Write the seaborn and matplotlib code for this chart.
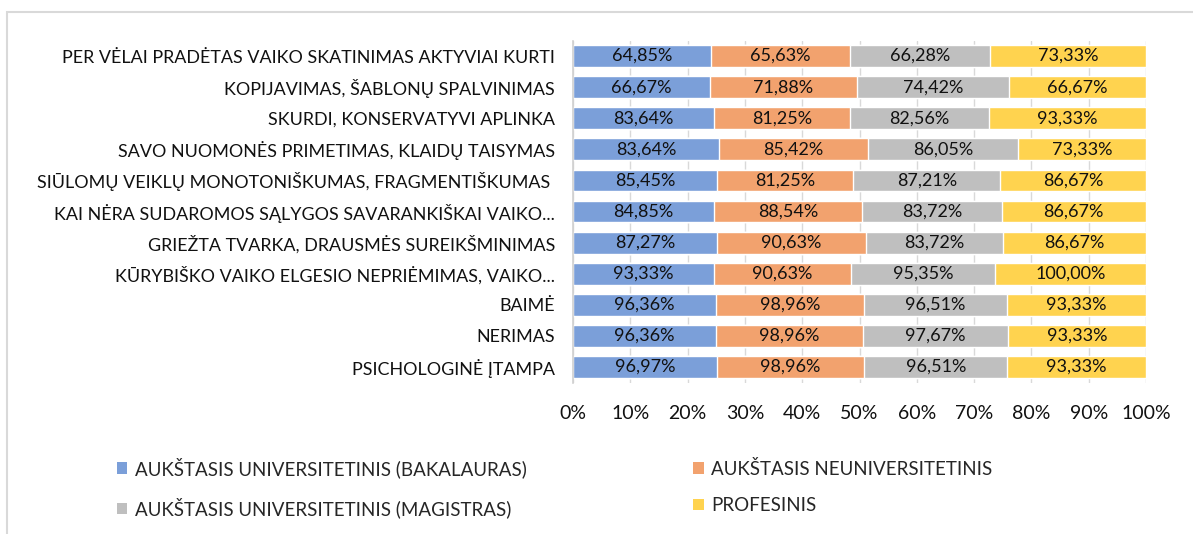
import matplotlib
matplotlib.use("Agg")
import matplotlib.pyplot as plt
from matplotlib.patches import Rectangle, Patch
import numpy as np
import pandas as pd
import seaborn as sns

categories = [
    "PER VĖLAI PRADĖTAS VAIKO SKATINIMAS AKTYVIAI KURTI",
    "KOPIJAVIMAS, ŠABLONŲ SPALVINIMAS",
    "SKURDI, KONSERVATYVI APLINKA",
    "SAVO NUOMONĖS PRIMETIMAS, KLAIDŲ TAISYMAS",
    "SIŪLOMŲ VEIKLŲ MONOTONIŠKUMAS, FRAGMENTIŠKUMAS ",
    "KAI NĖRA SUDAROMOS SĄLYGOS SAVARANKIŠKAI VAIKO...",
    "GRIEŽTA TVARKA, DRAUSMĖS SUREIKŠMINIMAS",
    "KŪRYBIŠKO VAIKO ELGESIO NEPRIĖMIMAS, VAIKO...",
    "BAIMĖ",
    "NERIMAS",
    "PSICHOLOGINĖ ĮTAMPA",
]

series_names = [
    "AUKŠTASIS UNIVERSITETINIS (BAKALAURAS)",
    "AUKŠTASIS NEUNIVERSITETINIS",
    "AUKŠTASIS UNIVERSITETINIS (MAGISTRAS)",
    "PROFESINIS",
]

bakalauras = [64.85, 66.67, 83.64, 83.64, 85.45, 84.85, 87.27, 93.33, 96.36, 96.36, 96.97]
neuniversitetinis = [65.63, 71.88, 81.25, 85.42, 81.25, 88.54, 90.63, 90.63, 98.96, 98.96, 98.96]
magistras = [66.28, 74.42, 82.56, 86.05, 87.21, 83.72, 83.72, 95.35, 96.51, 97.67, 96.51]
profesinis = [73.33, 66.67, 93.33, 73.33, 86.67, 86.67, 86.67, 100.00, 93.33, 93.33, 93.33]

colors = ["#7B9FD9", "#F2A26E", "#BFBFBF", "#FFD34F"]
text_color = "#111111"

sns.set_theme(style="white")
plt.rcParams["font.family"] = ["Lato", "DejaVu Sans"]

values = np.array([bakalauras, neuniversitetinis, magistras, profesinis])
shares = values / values.sum(axis=0) * 100
cum = np.cumsum(shares, axis=0)

fig = plt.figure(figsize=(11.93, 5.34), dpi=100)
ax = fig.add_axes([573 / 1193, 1 - 382.6 / 534, (1146 - 573) / 1193, (382.6 - 40.5) / 534])

# 100% stacked bars: draw cumulative totals from the outermost segment inwards
for i in range(len(series_names) - 1, -1, -1):
    df = pd.DataFrame({"cat": categories, "val": cum[i]})
    sns.barplot(data=df, x="val", y="cat", orient="h", color=colors[i],
                saturation=1, width=0.7, ax=ax, zorder=2)

# segment value labels
for i in range(len(series_names)):
    left = cum[i] - shares[i]
    for j, cat in enumerate(categories):
        txt = f"{values[i, j]:.2f}%".replace(".", ",")
        ax.text(left[j] + shares[i, j] / 2, j, txt, ha="center", va="center",
                fontsize=13, color=text_color, zorder=3)

ax.set_xlim(0, 100)
ax.set_ylim(len(categories) - 0.5, -0.5)
ax.set_xticks(np.arange(0, 101, 10))
ax.set_xticklabels([f"{t}%" for t in range(0, 101, 10)], fontsize=14, color=text_color)
ax.tick_params(axis="x", length=0, pad=16)
ax.tick_params(axis="y", length=0, pad=13, labelsize=12.9, labelcolor=text_color)
ax.set_xlabel("")
ax.set_ylabel("")
ax.grid(axis="x", color="#D9D9D9", linewidth=1, zorder=0)
ax.set_axisbelow(True)
for side in ["top", "right", "bottom"]:
    ax.spines[side].set_visible(False)
ax.spines["left"].set_color("#D0D0D0")
ax.spines["left"].set_linewidth(1.2)

# legend: row 1 = bakalauras, neuniversitetinis; row 2 = magistras, profesinis
order = [0, 2, 1, 3]
handles = [Patch(facecolor=colors[k], edgecolor="none") for k in order]
labels = [series_names[k] for k in order]
fig.legend(handles, labels, loc="upper left", bbox_to_anchor=(100 / 1193, 1 - 440 / 534),
           ncol=2, frameon=False, fontsize=13.5, handlelength=0.55, handleheight=0.55,
           handletextpad=0.4, columnspacing=8.9, labelspacing=1.05)

# light frame around the chart area
fig.add_artist(Rectangle((7 / 1193, -0.05), 1.1, 1 - 12 / 534 + 0.05,
                         transform=fig.transFigure, fill=False,
                         edgecolor="#D9D9D9", linewidth=1.5))

fig.savefig("out.png", dpi=100, facecolor="white")
